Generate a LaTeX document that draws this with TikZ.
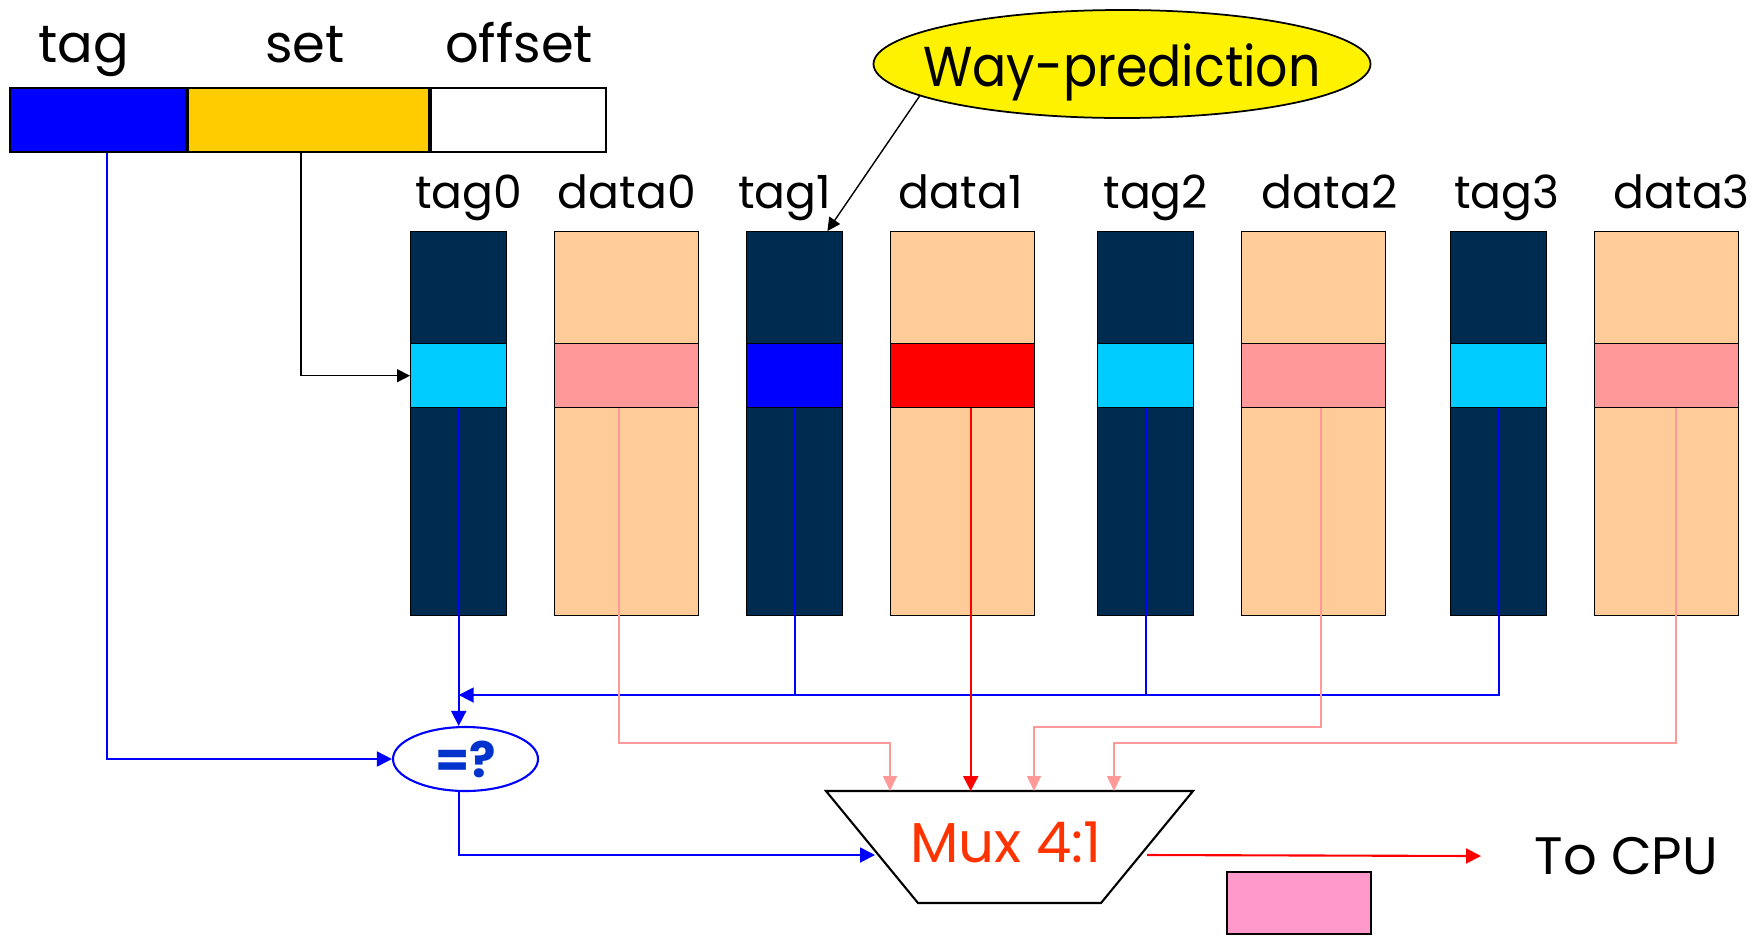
\documentclass[tikz,border=0pt]{standalone}
\usepackage{graphicx}
\usepackage{fontspec}
\setmainfont{Poppins}
\usetikzlibrary{shapes.geometric,arrows.meta}
\definecolor{navy}{HTML}{002B50}
\definecolor{tagcyan}{HTML}{00CCFF}
\definecolor{peach}{HTML}{FFCC99}
\definecolor{salmon}{HTML}{FF9999}
\definecolor{setgold}{HTML}{FFCC00}
\definecolor{muxred}{HTML}{FF3300}
\definecolor{eqblue}{HTML}{0033CC}
\definecolor{blkpink}{HTML}{FF99CC}
\begin{document}
\begin{tikzpicture}[x=1mm,y=-1mm,
	fld/.style={draw,line width=0.6pt,minimum height=6.4mm,inner sep=0,anchor=north west},
	tagcol/.style={draw,line width=0.4pt,fill=navy,minimum width=9.6mm,minimum height=38.4mm,inner sep=0,anchor=north west},
	datacol/.style={tagcol,fill=peach,minimum width=14.4mm},
	band/.style={draw,line width=0.4pt,minimum height=6.4mm,inner sep=0,anchor=north west},
	lbl/.style={font=\fontsize{15}{18}\selectfont,anchor=base,inner sep=0},
	collbl/.style={font=\fontsize{13}{16}\selectfont,anchor=base,inner sep=0},
	bluewire/.style={blue,line width=0.5pt},
	bluearr/.style={bluewire,-{Triangle[length=1.5mm,width=1.5mm]}},
	pinkarr/.style={salmon,line width=0.5pt,-{Triangle[length=1.5mm,width=1.4mm]}},
	redarr/.style={red,line width=0.6pt,-{Triangle[length=1.5mm,width=1.5mm]}},
	blkarr/.style={black,line width=0.4pt,-{Triangle[length=1.3mm,width=1.3mm]}}]
		\useasboundingbox (0,0) rectangle (176.2,93.5);
		% address
		\node[fld,fill=blue,minimum width=17.6mm] (ftag) at (0.9,8.7) {};
		\node[fld,fill=setgold,minimum width=24.1mm] (fset) at (ftag.north east) {};
		\node[fld,fill=white,minimum width=17.5mm] (foff) at (fset.north east) {};
		\node[lbl] (ltag) at (8.4,6.2) {tag};
		\node[lbl] (lset) at (30.5,6.2) {set};
		\node[lbl] (loff) at (51.9,6.2) {offset};
		% ways
		\foreach \i/\x/\tc/\dc/\ts/\ds in {0/41.0/tagcyan/salmon/1.0/0,1/74.6/blue/red/-1.0/-0.2,2/109.7/tagcyan/salmon/1.0/1.6,3/145.0/tagcyan/salmon/0.8/1.5}{
			\node[tagcol] (tg\i) at (\x,23.1) {};
			\node[datacol] (dt\i) at (\x+14.4,23.1) {};
			\node[band,fill=\tc,minimum width=9.6mm] (tb\i) at ([yshift=-11.2mm]tg\i.north west) {};
			\node[band,fill=\dc,minimum width=14.4mm] (db\i) at ([yshift=-11.2mm]dt\i.north west) {};
			\node[collbl] (ltg\i) at ([xshift=\ts mm,yshift=2.3mm]tg\i.north) {tag\i};
			\node[collbl] (ldt\i) at ([xshift=\ds mm,yshift=2.3mm]dt\i.north) {data\i};
		}
		\node[ellipse,draw,fill=yellow,line width=0.5pt,minimum width=49.7mm,minimum height=10.8mm,inner sep=0] (wp) at (112.2,6.4) {};
		\node[anchor=base,inner sep=0,font=\fontsize{16}{18}\selectfont] (wptxt) at (112.2,8.6) {\scalebox{0.9}[1]{Way-prediction}};
		\draw[blkarr] (wp.189) -- ([xshift=-1.6mm]tg1.north east);
		% compare and mux
		\node[ellipse,draw=blue,line width=0.6pt,minimum width=14.5mm,minimum height=6.4mm,inner sep=0,text=eqblue,font=\fontsize{14}{16}\selectfont\bfseries] (cmp) at (46.55,75.9) {=?};
		\coordinate (mtl) at (82.6,79.1);
		\coordinate (mtr) at (119.3,79.1);
		\coordinate (mbr) at (110.1,90.3);
		\coordinate (mbl) at (91.8,90.3);
		\draw[line width=0.6pt] (mtl) -- (mtr) -- (mbr) -- (mbl) -- cycle;
		\node[text=muxred,font=\fontsize{16}{18}\selectfont,inner sep=0] (mux) at (100.6,84.25) {Mux 4:1};
		\coordinate (muxin) at (87.5,85.5);
		\coordinate (muxout) at (114.7,85.5);
		\node[font=\fontsize{15}{18}\selectfont,inner sep=0,anchor=west] (cpu) at (153.4,85.6) {To CPU};
		\node[draw,fill=blkpink,line width=0.6pt,minimum width=14.4mm,minimum height=6.2mm,inner sep=0,anchor=north west] (blk) at (122.6,87.1) {};
		% wires
		\draw[blkarr] ([xshift=-0.75mm]fset.south) |- (tb0.west);
		\draw[bluearr] ([xshift=0.9mm]ftag.south) |- (cmp.west);
		\coordinate (bus) at (tb0.south |- 0,69.5);
		\draw[bluearr] (tb0.south) -- (tb0.south |- cmp.north);
		\draw[bluearr] (tb3.south) |- (bus);
		\draw[bluewire] (tb1.south) -- (tb1.south |- bus);
		\draw[bluewire] (tb2.south) -- (tb2.south |- bus);
		\draw[bluearr] (tb0.south |- cmp.south) |- (muxin);
		\coordinate (d0b) at (89.0,74.3);
		\coordinate (d2b) at (103.4,72.7);
		\coordinate (d3b) at (111.4,74.3);
		\draw[pinkarr] ([xshift=-0.8mm]db0.south) |- (d0b) -- (d0b |- mtl);
		\draw[redarr] ([xshift=0.8mm]db1.south) -- ([xshift=0.8mm]db1.south |- mtl);
		\draw[pinkarr] ([xshift=0.7mm]db2.south) |- (d2b) -- (d2b |- mtl);
		\draw[pinkarr] ([xshift=0.9mm]db3.south) |- (d3b) -- (d3b |- mtl);
		\draw[redarr] (muxout) -- ([xshift=-5.3mm]cpu.west);
	\end{tikzpicture}
\end{document}
